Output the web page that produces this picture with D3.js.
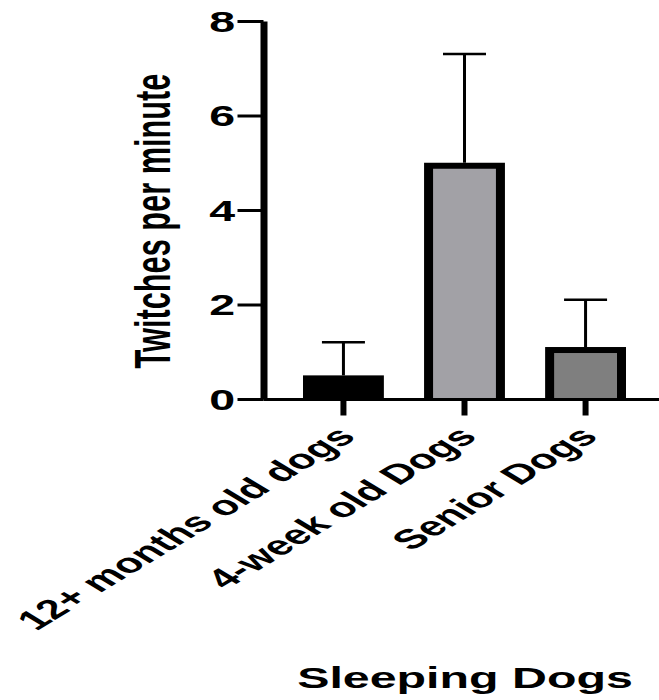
<!DOCTYPE html>
<html>
<head>
<meta charset="utf-8">
<script src="https://cdn.jsdelivr.net/npm/d3@7"></script>
<style>
  html, body { margin: 0; padding: 0; background: #fff; }
  svg { display: block; }
  text { font-family: "Liberation Sans", Arial, Helvetica, sans-serif; font-weight: bold; fill: #000; }
</style>
</head>
<body>
<svg id="chart" width="659" height="700"></svg>
<script>
// ---- data ----
const categories = ["12+ months old dogs", "4-week old Dogs", "Senior Dogs"];
const means = [0.5, 5.0, 1.1];
const errors = [0.7, 2.3, 1.0];
const fills = ["#000000", "#a2a1a6", "#7f7f7f"];
const yTicks = [0, 2, 4, 6, 8];
const yTitle = "Twitches per minute";
const xTitle = "Sleeping Dogs";

// ---- layout ----
const W = 659, H = 700;
const axisX = 263.5, axisY = 399.5;

const svg = d3.select("#chart");

const y = d3.scaleLinear().domain([0, 8]).range([399, 21]);
const x = d3.scaleBand().domain(categories).range([303, 626]).paddingInner(0.332).paddingOuter(0);

const data = categories.map((c, i) => ({ c, m: means[i], e: errors[i], f: fills[i] }));

// bars: black outer frame + inner fill
const bars = svg.append("g");
bars.selectAll("rect.outer").data(data).join("rect")
  .attr("class", "outer")
  .attr("x", d => x(d.c))
  .attr("y", d => y(d.m))
  .attr("width", x.bandwidth())
  .attr("height", d => y(0) - y(d.m))
  .attr("fill", "#000");
const sideB = 9, topB = 6;
bars.selectAll("rect.inner").data(data).join("rect")
  .attr("class", "inner")
  .attr("x", d => x(d.c) + sideB)
  .attr("y", d => y(d.m) + topB)
  .attr("width", x.bandwidth() - 2 * sideB)
  .attr("height", d => Math.max(0, y(0) - y(d.m) - topB))
  .attr("fill", d => d.f);

// error bars (upper only)
const eb = svg.append("g").attr("stroke", "#000");
eb.selectAll("line.v").data(data).join("line")
  .attr("x1", d => x(d.c) + x.bandwidth() / 2)
  .attr("x2", d => x(d.c) + x.bandwidth() / 2)
  .attr("y1", d => y(d.m))
  .attr("y2", d => y(d.m + d.e))
  .attr("stroke-width", 3);
eb.selectAll("line.h").data(data).join("line")
  .attr("x1", d => x(d.c) + x.bandwidth() / 2 - 21.5)
  .attr("x2", d => x(d.c) + x.bandwidth() / 2 + 21.5)
  .attr("y1", d => y(d.m + d.e))
  .attr("y2", d => y(d.m + d.e))
  .attr("stroke-width", 2.5);

// x axis
const xAxis = d3.axisBottom(x).tickSize(16).tickSizeOuter(0).tickFormat("");
const gx = svg.append("g").attr("transform", `translate(0,${axisY})`).call(xAxis);
gx.select(".domain").remove();
gx.selectAll(".tick line").attr("stroke", "#000").attr("stroke-width", 6);
svg.append("line")
  .attr("x1", axisX).attr("x2", W)
  .attr("y1", axisY).attr("y2", axisY)
  .attr("stroke", "#000").attr("stroke-width", 3);

// y axis
const yAxis = d3.axisLeft(y).tickValues(yTicks).tickSize(26).tickSizeOuter(0).tickFormat("");
const gy = svg.append("g").attr("transform", `translate(${axisX},0)`).call(yAxis);
gy.select(".domain").attr("stroke", "#000").attr("stroke-width", 7);
gy.selectAll(".tick line").attr("stroke", "#000").attr("stroke-width", 3);

// y tick labels
svg.append("g").selectAll("text").data(yTicks).join("text")
  .attr("transform", d => `translate(235,${y(d) + 10.5}) scale(1.55,1)`)
  .attr("text-anchor", "end")
  .style("font-size", "30px")
  .text(d => d);

// x tick labels (rotated, stretched)
svg.append("g").selectAll("text").data(categories).join("text")
  .attr("transform", d => `translate(${x(d) + x.bandwidth() / 2 + 14},438) scale(1.66,1) rotate(-45)`)
  .attr("text-anchor", "end")
  .style("font-size", "27.3px")
  .text(d => d);

// y title
svg.append("text")
  .attr("transform", "translate(170,221) rotate(-90) scale(1.06,1.75)")
  .attr("text-anchor", "middle")
  .style("font-size", "29px")
  .text(yTitle);

// x title
svg.append("text")
  .attr("transform", `translate(465,688) scale(1.65,1)`)
  .attr("text-anchor", "middle")
  .style("font-size", "29.3px")
  .text(xTitle);
</script>
</body>
</html>
